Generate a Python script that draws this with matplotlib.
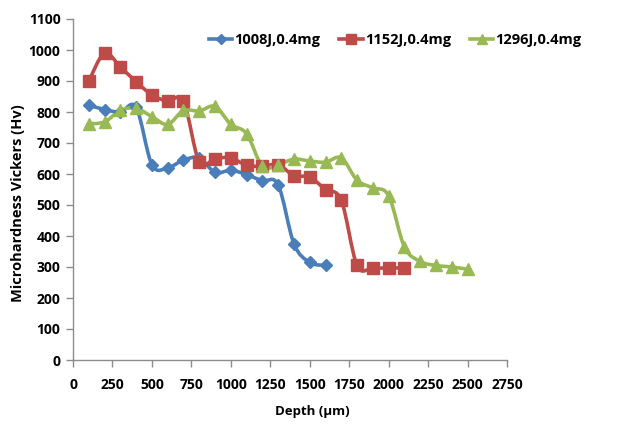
import numpy as np
import matplotlib
matplotlib.use('Agg')
import matplotlib.pyplot as plt
from matplotlib.path import Path
from matplotlib.patches import PathPatch
from matplotlib.lines import Line2D

# ── Data ──────────────────────────────────────────────────────────────────────
depth_1008 = [100, 200, 300, 400, 500, 600, 700, 800, 900, 1000, 1100, 1200, 1300, 1400, 1500, 1600]
hv_1008 = [822, 808, 800, 815, 630, 620, 645, 652, 605, 612, 598, 578, 565, 375, 315, 305]

depth_1152 = [100, 200, 300, 400, 500, 600, 700, 800, 900, 1000, 1100, 1200, 1300, 1400, 1500,
              1600, 1700, 1800, 1900, 2000, 2100]
hv_1152 = [900, 990, 945, 898, 855, 835, 835, 638, 650, 652, 628, 625, 630, 595, 590,
           550, 515, 305, 297, 297, 297]

depth_1296 = [100, 200, 300, 400, 500, 600, 700, 800, 900, 1000, 1100, 1200, 1300, 1400, 1500,
              1600, 1700, 1800, 1900, 2000, 2100, 2200, 2300, 2400, 2500]
hv_1296 = [762, 768, 805, 812, 785, 760, 805, 803, 818, 760, 730, 625, 630, 648, 642,
           638, 652, 580, 555, 530, 365, 318, 305, 300, 293]

labels = ['1008J,0.4mg', '1152J,0.4mg', '1296J,0.4mg']
colors = ['#4A7EBB', '#BE4B48', '#98B954']
markers = ['D', 's', '^']
msizes = [6, 8.5, 8.5]

xticks = list(range(0, 2751, 250))
yticks = list(range(0, 1101, 100))

plt.rcParams['font.family'] = ['Open Sans', 'DejaVu Sans']
plt.rcParams['font.weight'] = 'bold'


def smooth_path(x, y):
    # Excel-style smoothed line: Catmull-Rom segments as cubic Bezier
    x = np.asarray(x, float)
    y = np.asarray(y, float)
    pts = np.column_stack([x, y])
    verts = [pts[0]]
    codes = [Path.MOVETO]
    n = len(pts)
    t = 1.0 / 6.0
    for i in range(n - 1):
        p0 = pts[i - 1] if i > 0 else pts[i]
        p1 = pts[i]
        p2 = pts[i + 1]
        p3 = pts[i + 2] if i + 2 < n else pts[i + 1]
        c1 = p1 + (p2 - p0) * t
        c2 = p2 - (p3 - p1) * t
        verts += [c1, c2, p2]
        codes += [Path.CURVE4] * 3
    return Path(verts, codes)


fig = plt.figure(figsize=(6.2, 4.25), dpi=100)
ax = fig.add_axes([73 / 620, 65 / 425, 434 / 620, 341 / 425])

series = [(depth_1008, hv_1008), (depth_1152, hv_1152), (depth_1296, hv_1296)]
handles = []
for (xs, ys), lab, c, m, ms in zip(series, labels, colors, markers, msizes):
    patch = PathPatch(smooth_path(xs, ys), facecolor='none', edgecolor=c, lw=2.6, zorder=2)
    ax.add_patch(patch)
    ax.plot(xs, ys, ls='none', marker=m, ms=ms, color=c, mec=c, zorder=3)
    handles.append(Line2D([], [], color=c, lw=2.6, marker=m, ms=ms * 0.8, mec=c, label=lab))

ax.set_xlim(0, 2750)
ax.set_ylim(0, 1100)
ax.set_xticks(xticks)
ax.set_yticks(yticks)
ax.tick_params(axis='both', labelsize=10, color='#8c8c8c', length=5, width=1)
ax.tick_params(axis='x', pad=8)
ax.tick_params(axis='y', pad=4)
for s in ['top', 'right']:
    ax.spines[s].set_visible(False)
for s in ['left', 'bottom']:
    ax.spines[s].set_color('#8c8c8c')
    ax.spines[s].set_linewidth(1)

ax.set_xlabel('Depth (μm)', fontsize=9.5, fontweight='bold')
ax.xaxis.set_label_coords((312 - 73) / 434, -(405 - 360) / 341)
ax.set_ylabel('Microhardness Vickers (Hv)', fontsize=10.5, fontweight='bold')
ax.yaxis.set_label_coords(-(73 - 25) / 434, (360 - 203) / 341)

fig.legend(handles=handles, loc='center left', bbox_to_anchor=(209 / 620, 1 - 40 / 425),
           ncol=3, frameon=False, fontsize=10.5, handlelength=1.6, handletextpad=0.15,
           columnspacing=1.3, borderaxespad=0, borderpad=0)

fig.savefig('out.png', dpi=100)
